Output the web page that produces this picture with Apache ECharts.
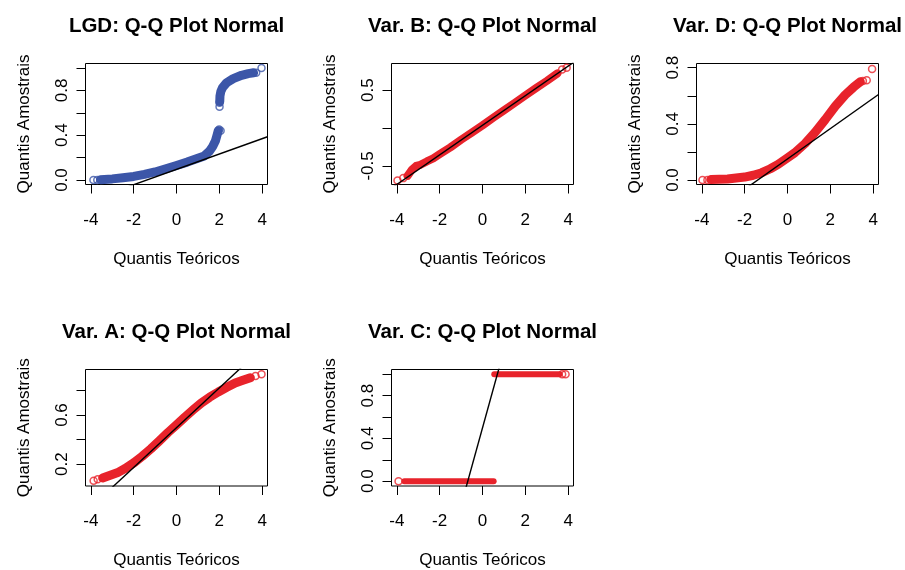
<!DOCTYPE html>
<html>
<head>
<meta charset="utf-8">
<script src="https://cdn.jsdelivr.net/npm/echarts@6/dist/echarts.min.js"></script>
<style>html,body{margin:0;padding:0;background:#fff}#c{width:905px;height:570px}</style>
</head>
<body>
<div id="c"></div>
<script>
// ---- text ----
const titles = ['LGD: Q-Q Plot Normal', 'Var. B: Q-Q Plot Normal', 'Var. D: Q-Q Plot Normal',
                'Var. A: Q-Q Plot Normal', 'Var. C: Q-Q Plot Normal'];
const xName = 'Quantis Teóricos';
const yName = 'Quantis Amostrais';

// ---- ticks ----
const xTicks = [-4, -2, 0, 2, 4];
const yTicksLGD = [0, 0.2, 0.4, 0.6, 0.8, 1.0];  const yLabelsLGD = [0, 0.4, 0.8];
const yTicksB   = [-0.5, 0, 0.5];                const yLabelsB   = [-0.5, 0.5];
const yTicksD   = [0, 0.2, 0.4, 0.6, 0.8];       const yLabelsD   = [0, 0.4, 0.8];
const yTicksA   = [0.2, 0.4, 0.6, 0.8];          const yLabelsA   = [0.2, 0.6];
const yTicksC   = [0, 0.2, 0.4, 0.6, 0.8, 1.0];  const yLabelsC   = [0, 0.4, 0.8];

// ---- LGD (theoretical quantile, sample quantile) ----
const lgdLower = [[-3.55,0.003],[-3.0,0.01],[-2.5,0.02],[-2.0,0.032],[-1.5,0.05],[-1.0,0.072],[-0.5,0.1],
                  [0,0.13],[0.5,0.16],[1.0,0.195],[1.3,0.215],[1.53,0.255],[1.69,0.30],[1.82,0.35],[1.9,0.405],[1.95,0.44]];
const lgdUpper = [[2.02,0.70],[2.03,0.75],[2.07,0.79],[2.15,0.825],[2.34,0.868],[2.65,0.905],[3.04,0.935],[3.35,0.95],[3.6,0.957]];
const lgdTails = [[-3.88,0.0],[-3.70,0.001],[1.99,0.45],[2.06,0.44],[2.01,0.655],[2.01,0.69],[3.72,0.958],[3.97,1.0]];
const lgdLine  = [[-4.25,-0.196],[4.25,0.386]];

// ---- Var. B ----
const varBBand  = [[-3.5,-0.63],[-3.3,-0.55],[-3.1,-0.50],[-2.9,-0.485],[-2.6,-0.44],[-2.3,-0.40],[-2.0,-0.345],
                   [-1.5,-0.255],[-1.0,-0.155],[-0.5,-0.06],[0,0.035],[0.5,0.135],[1.0,0.232],[1.5,0.33],[2.0,0.428],
                   [2.5,0.525],[3.0,0.62],[3.5,0.72]];
const varBTails = [[-3.97,-0.69],[-3.70,-0.66],[3.72,0.77],[3.93,0.795]];
const varBLine  = [[-4.25,-0.792],[4.25,0.864]];

// ---- Var. D ----
const varDBand  = [[-3.58,0.003],[-2.8,0.007],[-2.0,0.021],[-1.6,0.034],[-1.2,0.052],[-0.8,0.08],[-0.44,0.111],
                   [0,0.158],[0.34,0.194],[0.82,0.26],[1.29,0.34],[1.76,0.43],[2.23,0.525],[2.7,0.607],[3.09,0.662],[3.4,0.70]];
const varDTails = [[-3.97,0.0],[-3.74,0.0],[3.52,0.705],[3.7,0.71],[3.95,0.79]];
const varDLine  = [[-4.25,-0.309],[4.25,0.609]];

// ---- Var. A ----
const varABand  = [[-3.45,0.088],[-2.77,0.13],[-2.4,0.165],[-1.98,0.213],[-1.6,0.265],[-1.2,0.325],[-0.8,0.39],
                   [-0.41,0.456],[0,0.52],[0.38,0.581],[0.8,0.645],[1.16,0.698],[1.55,0.745],[1.95,0.787],
                   [2.35,0.825],[2.74,0.86],[3.1,0.882],[3.45,0.903]];
const varATails = [[-3.87,0.065],[-3.68,0.077],[3.69,0.917],[3.97,0.932]];
const varALine  = [[-4.25,-0.19],[4.25,1.184]];

// ---- Var. C ----
const varCLow   = [[-3.65,0],[0.52,0]];
const varCHigh  = [[0.55,1],[3.6,1]];
const varCTails = [[-3.92,0],[3.72,1],[3.88,1]];
const varCLine  = [[-4.25,-2.581],[4.25,3.578]];

// ---- styling / layout ----
const BLUE = '#3C56A8', RED = '#E8232B';
const FONT = 'Liberation Sans, Arial, Helvetica, sans-serif';
const grids = [
  {left:85.5, top:63.5, width:182, height:121},
  {left:391.5, top:63.5, width:182, height:121},
  {left:696.5, top:63.5, width:182, height:121},
  {left:85.5, top:369.5, width:182, height:121},
  {left:391.5, top:369.5, width:182, height:121}
];
const yRanges = [[-0.04,1.04],[-0.744,0.85],[-0.032,0.83],[0.023,0.970],[-0.045,1.045]];
const yTicks  = [yTicksLGD, yTicksB, yTicksD, yTicksA, yTicksC];
const yLabels = [yLabelsLGD, yLabelsB, yLabelsD, yLabelsA, yLabelsC];

const option = {
  animation: false,
  backgroundColor: '#fff',
  title: titles.map((t, i) => ({
    text: t,
    left: grids[i].left + grids[i].width / 2,
    top: grids[i].top - 47.5,
    textAlign: 'center',
    padding: 0,
    textStyle: {fontFamily: FONT, fontSize: 20.5, fontWeight: 'bold', color: '#000'}
  })),
  grid: grids.map(g => Object.assign({show: true, borderColor: '#000', borderWidth: 1, backgroundColor: 'transparent', containLabel: false}, g)),
  xAxis: grids.map((g, i) => ({
    gridIndex: i, type: 'value', min: -4.25, max: 4.25, position: 'bottom',
    axisLine: {show: false, onZero: false}, splitLine: {show: false},
    axisTick: {show: true, inside: false, length: 9, lineStyle: {color: '#000', width: 1}, customValues: xTicks},
    axisLabel: {customValues: xTicks, margin: 27, fontSize: 17, fontFamily: FONT, color: '#000',
                formatter: v => String(v)},
    name: xName, nameLocation: 'middle', nameGap: 66,
    nameTextStyle: {fontSize: 17, fontFamily: FONT, color: '#000'}
  })),
  yAxis: grids.map((g, i) => ({
    gridIndex: i, type: 'value', min: yRanges[i][0], max: yRanges[i][1], position: 'left',
    axisLine: {show: false, onZero: false}, splitLine: {show: false},
    axisTick: {show: true, inside: false, length: 9, lineStyle: {color: '#000', width: 1}, customValues: yTicks[i]},
    axisLabel: {customValues: yLabels[i], rotate: 90, margin: 15, fontSize: 17, fontFamily: FONT, color: '#000',
                formatter: v => v.toFixed(1)},
    name: yName, nameLocation: 'middle', nameGap: 53,
    nameTextStyle: {fontSize: 17, fontFamily: FONT, color: '#000'}
  })),
  series: []
};

function band(i, data, color, w) {
  option.series.push({type: 'line', xAxisIndex: i, yAxisIndex: i, data: data, showSymbol: false, symbol: 'none',
    lineStyle: {color: color, width: w, cap: 'round', join: 'round'}, z: 2, silent: true});
}
function tails(i, data, color) {
  option.series.push({type: 'scatter', xAxisIndex: i, yAxisIndex: i, data: data, symbol: 'circle', symbolSize: 7,
    itemStyle: {color: 'rgba(255,255,255,0)', borderColor: color, borderWidth: 1.5}, z: 3, silent: true});
}
function qqline(i, data) {
  option.series.push({type: 'line', xAxisIndex: i, yAxisIndex: i, data: data, showSymbol: false, symbol: 'none',
    lineStyle: {color: '#000', width: 1.4}, z: 4, silent: true, clip: true});
}

band(0, lgdLower, BLUE, 9); band(0, lgdUpper, BLUE, 9); tails(0, lgdTails, BLUE); qqline(0, lgdLine);
band(1, varBBand, RED, 8); tails(1, varBTails, RED); qqline(1, varBLine);
band(2, varDBand, RED, 9); tails(2, varDTails, RED); qqline(2, varDLine);
band(3, varABand, RED, 9); tails(3, varATails, RED); qqline(3, varALine);
band(4, varCLow, RED, 6); band(4, varCHigh, RED, 6); tails(4, varCTails, RED); qqline(4, varCLine);

const chart = echarts.init(document.getElementById('c'), null, {renderer: 'canvas'});
chart.setOption(option);
</script>
</body>
</html>
